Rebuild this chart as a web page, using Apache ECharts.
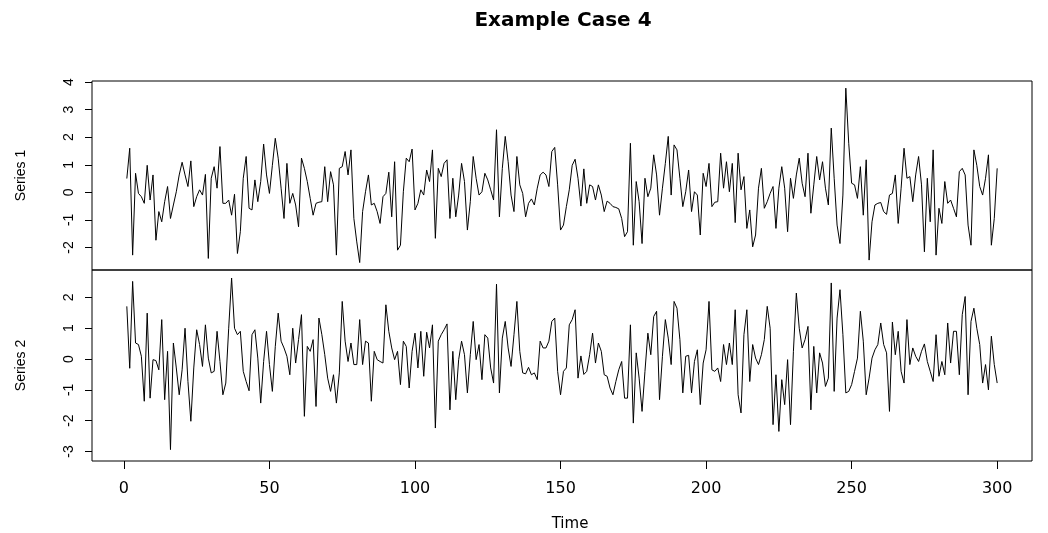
<!DOCTYPE html>
<html>
<head>
<meta charset="utf-8">
<script src="https://cdn.jsdelivr.net/npm/echarts@6/dist/echarts.min.js"></script>
<style>html,body{margin:0;padding:0;background:#fff;}#c{width:1048px;height:533px;}</style>
</head>
<body>
<div id="c"></div>
<script>
const titleText = 'Example Case 4';
const xName = 'Time';
const seriesNames = ['Series 1', 'Series 2'];
const xTicks = [0, 50, 100, 150, 200, 250, 300];
const y1Ticks = [-2, -1, 0, 1, 2, 3, 4];
const y2Ticks = [-3, -2, -1, 0, 1, 2];

const series1 = [
0.5,1.6,-2.28,0.69,-0.04,-0.16,-0.4,0.98,-0.28,0.63,
-1.74,-0.7,-1.07,-0.34,0.21,-0.95,-0.46,0.02,0.63,1.09,
0.63,0.21,1.14,-0.52,-0.16,0.09,-0.1,0.65,-2.4,0.51,
0.93,0.15,1.66,-0.4,-0.4,-0.28,-0.83,-0.07,-2.22,-1.43,
0.51,1.3,-0.58,-0.64,0.45,-0.34,0.39,1.75,0.63,-0.04,
0.98,1.96,1.24,0.15,-0.95,1.05,-0.4,-0.04,-0.46,-1.25,
1.24,0.87,0.39,-0.22,-0.83,-0.4,-0.36,-0.34,0.93,-0.34,
0.75,0.27,-2.28,0.87,0.93,1.48,0.63,1.54,-0.95,-1.8,
-2.55,-0.7,0.02,0.63,-0.46,-0.4,-0.7,-1.13,-0.16,-0.04,
0.73,-0.89,1.11,-2.1,-1.92,0.02,1.24,1.11,1.57,-0.64,
-0.4,0.09,-0.1,0.81,0.39,1.54,-1.67,0.87,0.57,1.05,
1.18,-0.95,0.51,-0.89,-0.1,1.05,0.39,-1.37,-0.34,1.3,
0.51,-0.1,0.02,0.69,0.45,0.09,-0.28,2.27,-0.89,0.87,
2.03,1.11,-0.1,-0.7,1.3,0.27,-0.04,-0.89,-0.4,-0.24,
-0.46,0.15,0.63,0.73,0.63,0.21,1.48,1.63,0.27,-1.37,
-1.19,-0.52,0.09,0.98,1.2,0.51,-0.5,0.85,-0.4,0.27,
0.21,-0.28,0.27,-0.1,-0.7,-0.32,-0.4,-0.52,-0.55,-0.6,
-0.95,-1.61,-1.43,1.78,-1.92,0.39,-0.34,-1.86,0.51,-0.16,
0.15,1.36,0.63,-0.83,0.15,1.05,2.03,-0.1,1.72,1.54,
0.51,-0.52,0.02,0.81,-0.7,0.02,-0.1,-1.55,0.69,0.21,
1.05,-0.52,-0.36,-0.34,1.42,0.15,1.11,0.02,1.05,-1.1,
1.42,0.09,0.57,-1.31,-0.64,-1.98,-1.55,0.15,0.87,-0.58,
-0.34,-0.04,0.21,-1.31,0.15,0.93,0.15,-1.43,0.51,-0.22,
0.63,1.24,0.33,-0.16,1.42,-0.76,0.27,1.3,0.45,1.11,
0.15,-0.46,2.33,0.51,-1.19,-1.86,-0.1,3.78,1.78,0.33,
0.27,-0.22,0.93,-0.83,1.18,-2.46,-1.07,-0.46,-0.4,-0.37,
-0.7,-0.8,-0.1,-0.04,0.63,-1.13,0.15,1.6,0.51,0.57,
-0.34,0.63,1.3,0.27,-2.16,0.51,-1.07,1.54,-2.28,-0.58,
-1.13,0.39,-0.4,-0.28,-0.58,-0.89,0.75,0.87,0.63,-1.19,
-1.92,1.54,0.98,0.21,-0.1,0.51,1.36,-1.92,-0.95,0.87
];

const series2 = [
1.71,-0.3,2.52,0.52,0.47,0.09,-1.37,1.49,-1.27,-0.02,
-0.05,-0.35,1.28,-1.32,0.25,-2.94,0.52,-0.29,-1.16,-0.35,
1.0,-0.73,-2.02,-0.29,0.95,0.47,-0.24,1.11,0.03,-0.45,
-0.4,0.9,-0.08,-1.16,-0.78,1.0,2.63,1.0,0.79,0.9,
-0.4,-0.73,-1.03,0.79,0.95,0.03,-1.43,-0.08,0.9,-0.18,
-1.05,0.4,1.49,0.58,0.36,0.09,-0.51,1.0,-0.13,0.63,
1.44,-1.86,0.41,0.25,0.63,-1.54,1.33,0.79,0.14,-0.62,
-1.05,-0.51,-1.43,-0.45,1.87,0.58,-0.08,0.52,-0.18,-0.18,
1.28,-0.18,0.58,0.52,-1.37,0.25,-0.02,-0.08,-0.13,1.76,
0.9,0.36,-0.02,0.25,-0.83,0.58,0.41,-0.94,0.25,0.84,
-0.29,0.9,-0.56,0.87,0.36,1.11,-2.24,0.58,0.79,0.95,
1.14,-1.65,0.25,-1.32,-0.02,0.58,0.14,-1.1,0.14,1.22,
-0.02,0.47,-0.67,0.79,0.68,-0.29,-0.78,2.43,-1.1,0.68,
1.22,0.36,-0.24,0.79,1.87,0.25,-0.45,-0.48,-0.27,-0.51,
-0.45,-0.67,0.58,0.36,0.36,0.58,1.22,1.33,-0.4,-1.16,
-0.4,-0.29,1.11,1.28,1.6,-0.62,0.1,-0.5,-0.4,0.14,
0.84,-0.13,0.52,0.25,-0.51,-0.56,-0.94,-1.16,-0.73,-0.35,
-0.08,-1.27,-1.27,1.11,-2.08,0.2,-0.62,-1.7,-0.4,0.84,
0.14,1.38,1.55,-1.32,0.09,1.28,0.68,-0.18,1.87,1.65,
0.63,-1.1,0.09,0.12,-1.1,-0.08,0.3,-1.48,-0.13,0.3,
1.87,-0.35,-0.4,-0.29,-0.73,0.47,-0.18,0.52,-0.18,1.6,
-1.16,-1.75,0.79,1.6,-0.73,0.47,0.03,-0.18,0.14,0.63,
1.71,1.0,-2.13,-0.51,-2.35,-0.67,-1.48,-0.02,-2.13,0.25,
2.14,1.0,0.36,0.63,1.06,-1.65,0.41,-1.1,0.2,-0.13,
-0.89,-0.62,2.47,-1.05,1.33,2.25,0.79,-1.1,-1.05,-0.83,
-0.4,0.03,1.55,0.58,-1.16,-0.62,0.03,0.3,0.47,1.17,
0.47,0.2,-1.7,1.2,0.14,0.9,-0.4,-0.78,1.28,-0.18,
0.36,0.09,-0.08,0.25,0.49,-0.08,-0.4,-0.73,0.79,-0.56,
-0.08,-0.51,1.17,-0.13,0.9,0.9,-0.51,1.44,2.03,-1.16,
1.22,1.65,1.0,0.47,-0.78,-0.18,-1.0,0.74,-0.18,-0.78
];

const FONT = '"Liberation Sans", Arial, sans-serif';
const WFONT = '"DejaVu Sans", sans-serif';
const pairs = arr => arr.map((v, i) => [i + 1, v]);

const xBase = {
  type: 'value', min: -10.96, max: 311.96,
  splitLine: { show: false }
};
const yBase = (ticks, min, max, name, idx) => ({
  type: 'value', gridIndex: idx, min: min, max: max,
  splitLine: { show: false },
  axisLine: { show: false, onZero: false },
  axisTick: { show: true, customValues: ticks, length: 7, lineStyle: { color: '#000', width: 1 } },
  axisLabel: { show: true, customValues: ticks, rotate: 90, margin: 16, color: '#000', fontSize: 14, fontFamily: FONT },
  name: name, nameLocation: 'middle', nameRotate: 90, nameGap: 64,
  nameTextStyle: { color: '#000', fontSize: 14, fontFamily: FONT }
});

const chart = echarts.init(document.getElementById('c'), null, { renderer: 'canvas' });
chart.setOption({
  animation: false,
  backgroundColor: '#fff',
  title: {
    text: titleText, left: 558, top: 6, textAlign: 'center',
    textStyle: { fontSize: 20, fontWeight: 'bold', color: '#000', fontFamily: WFONT }
  },
  grid: [
    { left: 92, right: 16, top: 81, height: 189, show: true, borderColor: '#000', borderWidth: 1, backgroundColor: 'transparent' },
    { left: 92, right: 16, top: 270, height: 191, show: true, borderColor: '#000', borderWidth: 1, backgroundColor: 'transparent' }
  ],
  xAxis: [
    Object.assign({}, xBase, { gridIndex: 0, axisLine: { show: false, onZero: false }, axisTick: { show: false }, axisLabel: { show: false } }),
    Object.assign({}, xBase, {
      gridIndex: 1,
      axisLine: { show: false, onZero: false },
      axisTick: { show: true, customValues: xTicks, length: 8, lineStyle: { color: '#000', width: 1 } },
      axisLabel: { show: true, customValues: xTicks, margin: 20, color: '#000', fontSize: 16, fontFamily: WFONT },
      name: xName, nameLocation: 'middle', nameGap: 56,
      nameTextStyle: { color: '#000', fontSize: 15, fontFamily: WFONT, padding: [0, 0, 0, 16] }
    })
  ],
  yAxis: [
    yBase(y1Ticks, -2.82, 4.04, seriesNames[0], 0),
    yBase(y2Ticks, -3.31, 2.89, seriesNames[1], 1)
  ],
  series: [
    { name: seriesNames[0], type: 'line', xAxisIndex: 0, yAxisIndex: 0, data: pairs(series1), showSymbol: false, symbol: 'none', lineStyle: { color: '#000', width: 1 } },
    { name: seriesNames[1], type: 'line', xAxisIndex: 1, yAxisIndex: 1, data: pairs(series2), showSymbol: false, symbol: 'none', lineStyle: { color: '#000', width: 1 } }
  ]
});
</script>
</body>
</html>
